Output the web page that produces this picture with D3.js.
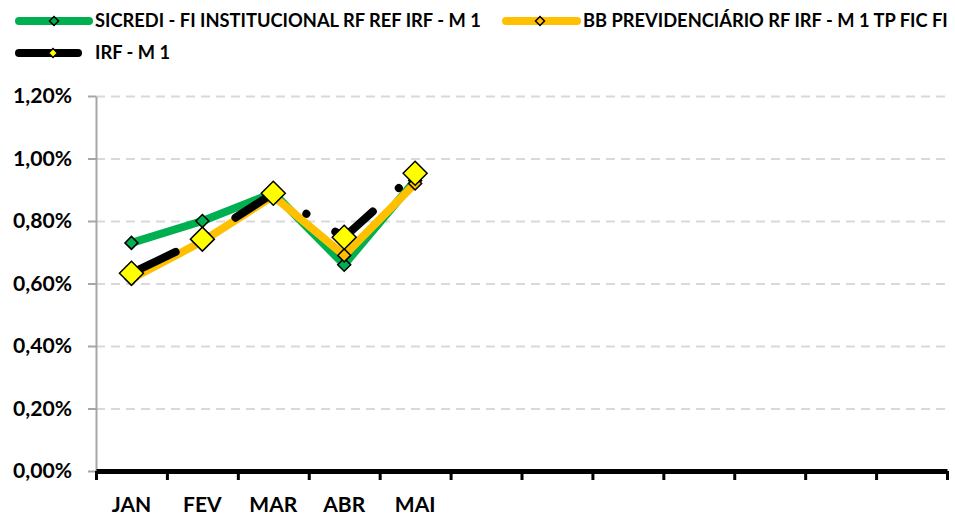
<!DOCTYPE html>
<html>
<head>
<meta charset="utf-8">
<script src="https://cdn.jsdelivr.net/npm/d3@7"></script>
<style>
  html, body { margin: 0; padding: 0; background: #fff; }
  svg { display: block; }
  text { font-family: Lato, "Open Sans", sans-serif; font-weight: bold; fill: #000; }
</style>
</head>
<body>
<svg id="chart" width="955" height="518"></svg>
<script>
// ---------------- DATA ----------------
const categories = ["JAN", "FEV", "MAR", "ABR", "MAI", "", "", "", "", "", "", ""];
const seriesNames = [
  "SICREDI - FI INSTITUCIONAL RF REF IRF - M 1",
  "BB PREVIDENCIÁRIO RF IRF - M 1 TP FIC FI",
  "IRF - M 1"
];
const sicredi = [0.73, 0.80, 0.89, 0.66, 0.93];
const bb      = [0.615, 0.735, 0.88, 0.69, 0.92];
const irf     = [0.633, 0.742, 0.889, 0.748, 0.953];
const yTicks = [0, 0.2, 0.4, 0.6, 0.8, 1.0, 1.2];
const yTickLabels = ["0,00%", "0,20%", "0,40%", "0,60%", "0,80%", "1,00%", "1,20%"];

// ---------------- LAYOUT ----------------
const svg = d3.select("#chart");
const pLeft = 96, pRight = 947, pTop = 96, pBottom = 471;

const x = d3.scaleBand().domain(d3.range(categories.length)).range([pLeft, pRight]).padding(0);
const xEdge = d3.scaleLinear().domain([0, categories.length]).range([pLeft, pRight]);
const y = d3.scaleLinear().domain([0, 1.2]).range([pBottom, pTop]);
const cx = i => x(i) + x.bandwidth() / 2;

function fitSize(sample, targetW) {
  const t = svg.append("text").attr("font-size", 100).text(sample);
  const w = t.node().getComputedTextLength();
  t.remove();
  return 100 * targetW / w;
}
const ySize = fitSize("1,20%", 59);
const xSize = Math.min(fitSize("MAR", 54), 21);
const legSize = fitSize(seriesNames[0], 386);

// gridlines
svg.append("g")
  .attr("transform", `translate(${pLeft},0)`)
  .call(d3.axisLeft(y).tickValues(yTicks.filter(d => d > 0)).tickSize(-(pRight - pLeft)).tickFormat(""))
  .call(g => g.select(".domain").remove())
  .call(g => g.selectAll("line").attr("stroke", "#D9D9D9").attr("stroke-width", 2).attr("stroke-dasharray", "9,6"));

// y axis
svg.append("g")
  .attr("transform", `translate(${pLeft},0)`)
  .call(d3.axisLeft(y).tickValues(yTicks).tickFormat((d, i) => yTickLabels[i]).tickSizeInner(8).tickSizeOuter(0).tickPadding(16))
  .call(g => g.select(".domain").attr("stroke", "#A6A6A6").attr("stroke-width", 2))
  .call(g => g.selectAll(".tick line").attr("stroke", "#A6A6A6").attr("stroke-width", 2))
  .call(g => g.selectAll(".tick text").attr("font-size", ySize).attr("font-family", "Lato").attr("font-weight", "bold").attr("fill", "#000"));

// x axis (ticks at category boundaries)
svg.append("g")
  .attr("transform", `translate(0,${pBottom})`)
  .call(d3.axisBottom(xEdge).tickValues(d3.range(categories.length + 1)).tickFormat("").tickSizeInner(9).tickSizeOuter(0))
  .call(g => g.select(".domain").attr("stroke", "#000").attr("stroke-width", 5))
  .call(g => g.selectAll(".tick line").attr("stroke", "#000").attr("stroke-width", 3));

svg.append("g").selectAll("text")
  .data(categories)
  .join("text")
  .attr("x", (d, i) => cx(i))
  .attr("y", 505)
  .attr("dy", "0.35em")
  .attr("text-anchor", "middle")
  .attr("font-size", xSize)
  .text(d => d);

// ---------------- SERIES ----------------
const diamond = r => `M0,${-r}L${r},0L0,${r}L${-r},0Z`;
const line = d3.line().x((d, i) => cx(i)).y(d => y(d));

const series = [
  { values: sicredi, stroke: "#00B050", fill: "#00B050", r: 6.5, dash: null },
  { values: bb, stroke: "#FFC000", fill: "#FFC000", r: 6.5, dash: null },
  { values: irf, stroke: "#000000", fill: "#FFFF00", r: 12, dash: "49,35,0.1,34" }
];

series.forEach(s => {
  const g = svg.append("g");
  g.append("path")
    .attr("d", line(s.values))
    .attr("fill", "none")
    .attr("stroke", s.stroke)
    .attr("stroke-width", 8)
    .attr("stroke-linejoin", "round")
    .attr("stroke-linecap", "round")
    .attr("stroke-dasharray", s.dash);
  g.selectAll("path.m")
    .data(s.values)
    .join("path")
    .attr("class", "m")
    .attr("transform", (d, i) => `translate(${cx(i)},${y(d)})`)
    .attr("d", diamond(s.r))
    .attr("fill", s.fill)
    .attr("stroke", "#000")
    .attr("stroke-width", 1.5);
});

// ---------------- LEGEND ----------------
const legend = [
  { name: seriesNames[0], x1: 19, x2: 89, y: 21, tx: 95, stroke: "#00B050", fill: "#00B050", mx: 54 },
  { name: seriesNames[1], x1: 506, x2: 577, y: 21, tx: 583, stroke: "#FFC000", fill: "#FFC000", mx: 540 },
  { name: seriesNames[2], x1: 19, x2: 78, y: 53, tx: 95, stroke: "#000000", fill: "#FFFF00", mx: 53 }
];
const lg = svg.append("g").selectAll("g").data(legend).join("g");
lg.append("line")
  .attr("x1", d => d.x1).attr("x2", d => d.x2)
  .attr("y1", d => d.y).attr("y2", d => d.y)
  .attr("stroke", d => d.stroke).attr("stroke-width", 8).attr("stroke-linecap", "round");
lg.append("path")
  .attr("transform", d => `translate(${d.mx},${d.y})`)
  .attr("d", diamond(4.5))
  .attr("fill", d => d.fill)
  .attr("stroke", "#000")
  .attr("stroke-width", 1.5);
lg.append("text")
  .attr("x", d => d.tx).attr("y", d => d.y)
  .attr("dy", "0.35em")
  .attr("font-size", legSize)
  .text(d => d.name);
</script>
</body>
</html>
